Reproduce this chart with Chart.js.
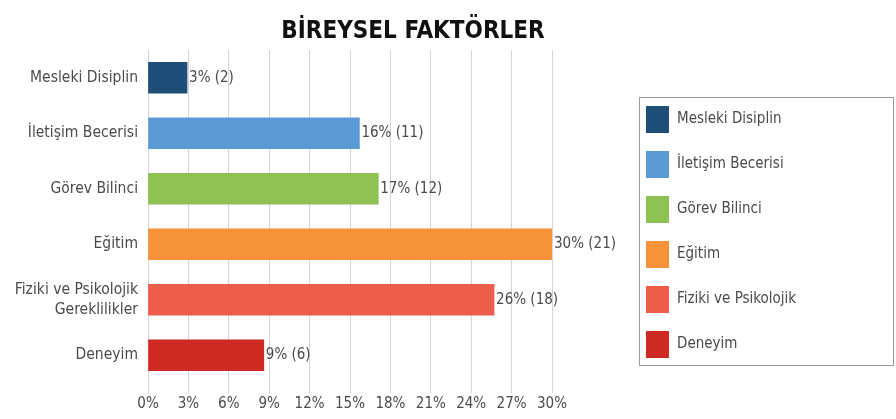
<!DOCTYPE html>
<html>
<head>
<meta charset="utf-8">
<script src="https://cdn.jsdelivr.net/npm/chart.js@4"></script>
<style>
  html, body { margin: 0; padding: 0; background: #fff; }
  #wrap { width: 896px; height: 419px; }
</style>
</head>
<body>
<div id="wrap"><canvas id="faktorler"></canvas></div>
<script>
'use strict'
const categories = ['Mesleki Disiplin', 'İletişim Becerisi', 'Görev Bilinci', 'Eğitim', ['Fiziki ve Psikolojik', 'Gereklilikler'], 'Deneyim']
const legendNames = ['Mesleki Disiplin', 'İletişim Becerisi', 'Görev Bilinci', 'Eğitim', 'Fiziki ve Psikolojik', 'Deneyim']
const percentValues = [2.9, 15.7, 17.1, 30.0, 25.7, 8.6]
const percentLabels = ['3%', '16%', '17%', '30%', '26%', '9%']
const counts = [2, 11, 12, 21, 18, 6]
const xTicks = [0, 3, 6, 9, 12, 15, 18, 21, 24, 27, 30]
const barColors = ['#1f4e79', '#5b9bd5', '#8dc152', '#f7923a', '#ee5d4b', '#cf2b24']

const FONT = '"DejaVu Sans Condensed", "DejaVu Sans", sans-serif'
const TXT = '#4a4a4a'

// title, value labels and the boxed legend on the right
const extras = {
  id: 'extras',
  afterDatasetsDraw(chart) {
    const ctx = chart.ctx
    const meta = chart.getDatasetMeta(0)
    ctx.save()
    ctx.font = '15px ' + FONT
    ctx.fillStyle = TXT
    ctx.textAlign = 'left'
    ctx.textBaseline = 'middle'
    meta.data.forEach((bar, i) => {
      ctx.fillText(percentLabels[i] + ' (' + counts[i] + ')', bar.x + 2, bar.y)
    })

    // title
    ctx.font = 'bold 24px ' + FONT
    ctx.fillStyle = '#111'
    ctx.textAlign = 'center'
    ctx.textBaseline = 'alphabetic'
    ctx.fillText('BİREYSEL FAKTÖRLER', 413, 38)

    // legend
    ctx.strokeStyle = '#9a9a9a'
    ctx.lineWidth = 1
    ctx.strokeRect(639.5, 97.5, 254, 268)
    ctx.font = '15px ' + FONT
    ctx.textAlign = 'left'
    ctx.textBaseline = 'middle'
    legendNames.forEach((name, i) => {
      const cy = 119 + i * 45
      ctx.fillStyle = barColors[i]
      ctx.fillRect(646, cy - 13, 23, 27)
      ctx.fillStyle = TXT
      ctx.fillText(name, 677, cy)
    })
    ctx.restore()
  }
}

const config = {
  type: 'bar',
  data: {
    labels: categories,
    datasets: [{
      data: percentValues,
      backgroundColor: barColors,
      borderWidth: 0,
      barThickness: 31
    }]
  },
  options: {
    indexAxis: 'y',
    responsive: true,
    maintainAspectRatio: false,
    animation: false,
    layout: { padding: { top: 50, right: 344, bottom: 4, left: 0 } },
    plugins: {
      legend: { display: false },
      tooltip: { enabled: false }
    },
    scales: {
      x: {
        min: 0,
        max: 30,
        afterBuildTicks: (axis) => { axis.ticks = xTicks.map(v => ({ value: v })) },
        ticks: {
          callback: (v) => v + '%',
          color: TXT,
          font: { family: FONT, size: 15 },
          maxRotation: 0,
          padding: 2
        },
        grid: { color: '#d4d4d4', tickLength: 10, drawTicks: true },
        border: { display: false }
      },
      y: {
        afterFit: (axis) => { axis.width = 148 },
        ticks: {
          color: TXT,
          font: { family: FONT, size: 15.5, lineHeight: 1.3 },
          padding: 2
        },
        grid: { display: false },
        border: { display: false }
      }
    }
  },
  plugins: [extras]
}

new Chart(document.querySelector('#faktorler'), config)
</script>
</body>
</html>
